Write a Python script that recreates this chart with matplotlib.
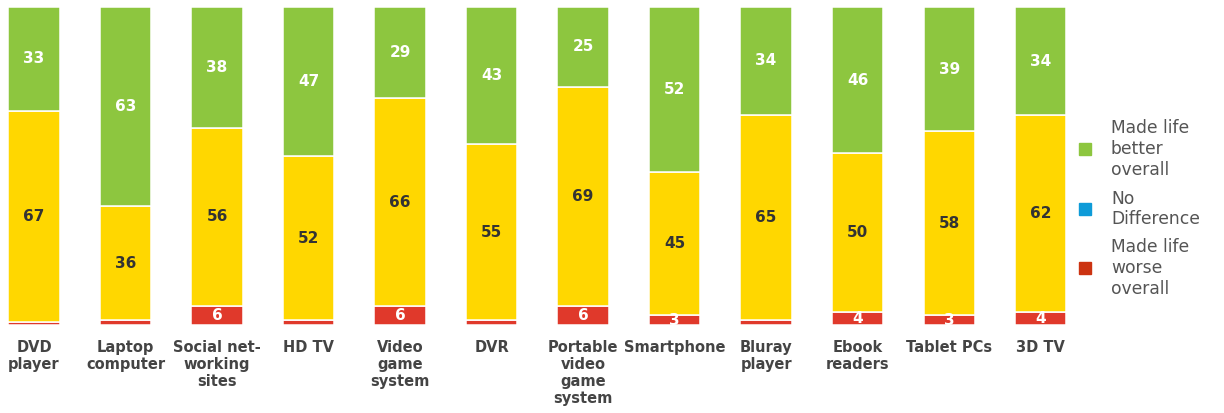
import matplotlib
matplotlib.use("Agg")
import matplotlib.pyplot as plt
from matplotlib.patches import Rectangle

# ---- data ----
devices = ["DVD\nplayer", "Laptop\ncomputer", "Social net-\nworking\nsites", "HD TV",
           "Video\ngame\nsystem", "DVR", "Portable\nvideo\ngame\nsystem", "Smartphone",
           "Bluray\nplayer", "Ebook\nreaders", "Tablet PCs", "3D TV"]
worse = [1, 1.5, 6, 1.5, 6, 1.5, 6, 3, 1.5, 4, 3, 4]
no_diff = [67, 36, 56, 52, 66, 55, 69, 45, 65, 50, 58, 62]
better = [33, 63, 38, 47, 29, 43, 25, 52, 34, 46, 39, 34]

GREEN = "#8DC63F"
YELLOW = "#FFD700"
RED = "#E0392B"

fig = plt.figure(figsize=(12.24, 4.13), dpi=100)
ax = fig.add_axes([0, 0.213, 1080 / 1224, 0.770])

x = list(range(len(devices)))
totals = [w + n + b for w, n, b in zip(worse, no_diff, better)]
w_s = [w * 100 / t for w, t in zip(worse, totals)]
n_s = [n * 100 / t for n, t in zip(no_diff, totals)]
b_s = [b * 100 / t for b, t in zip(better, totals)]
mid_bottom = w_s
top_bottom = [a + b for a, b in zip(w_s, n_s)]

width = 0.56
ax.bar(x, w_s, width, color=RED, edgecolor="white", linewidth=1.1)
ax.bar(x, n_s, width, bottom=mid_bottom, color=YELLOW, edgecolor="white", linewidth=1.1)
ax.bar(x, b_s, width, bottom=top_bottom, color=GREEN, edgecolor="white", linewidth=1.1)

for i in x:
    ax.text(i, top_bottom[i] + b_s[i] / 2, str(better[i]), ha="center", va="center",
            color="white", fontsize=11, fontweight="bold")
    ax.text(i, mid_bottom[i] + n_s[i] / 2, str(no_diff[i]), ha="center", va="center",
            color="#333333", fontsize=11, fontweight="bold")
    if worse[i] >= 3:
        ax.text(i, w_s[i] / 2, str(worse[i]), ha="center", va="center",
                color="white", fontsize=11, fontweight="bold")

ax.set_xlim(-0.372, 11.43)
ax.set_ylim(0, 100)
ax.set_xticks(x)
ax.set_xticklabels(devices, fontsize=10.5, fontweight="bold", color="#444444",
                   linespacing=1.15, va="top")
ax.tick_params(axis="x", length=0, pad=11)
ax.set_yticks([])
for s in ax.spines.values():
    s.set_visible(False)

# legend
leg_items = [("Made life\nbetter\noverall", GREEN, 149),
             ("No\nDifference", "#0E9BD8", 209),
             ("Made life\nworse\noverall", "#CC3311", 268)]
for label, col, ypx in leg_items:
    yf = 1 - ypx / 413
    fig.patches.append(Rectangle((1079 / 1224, yf - 6 / 413), 12 / 1224, 12 / 413,
                                 transform=fig.transFigure, color=col))
    fig.text(1111 / 1224, yf, label, ha="left", va="center", fontsize=12.3,
             color="#555555", linespacing=1.2)

fig.savefig("out.png", dpi=100)
